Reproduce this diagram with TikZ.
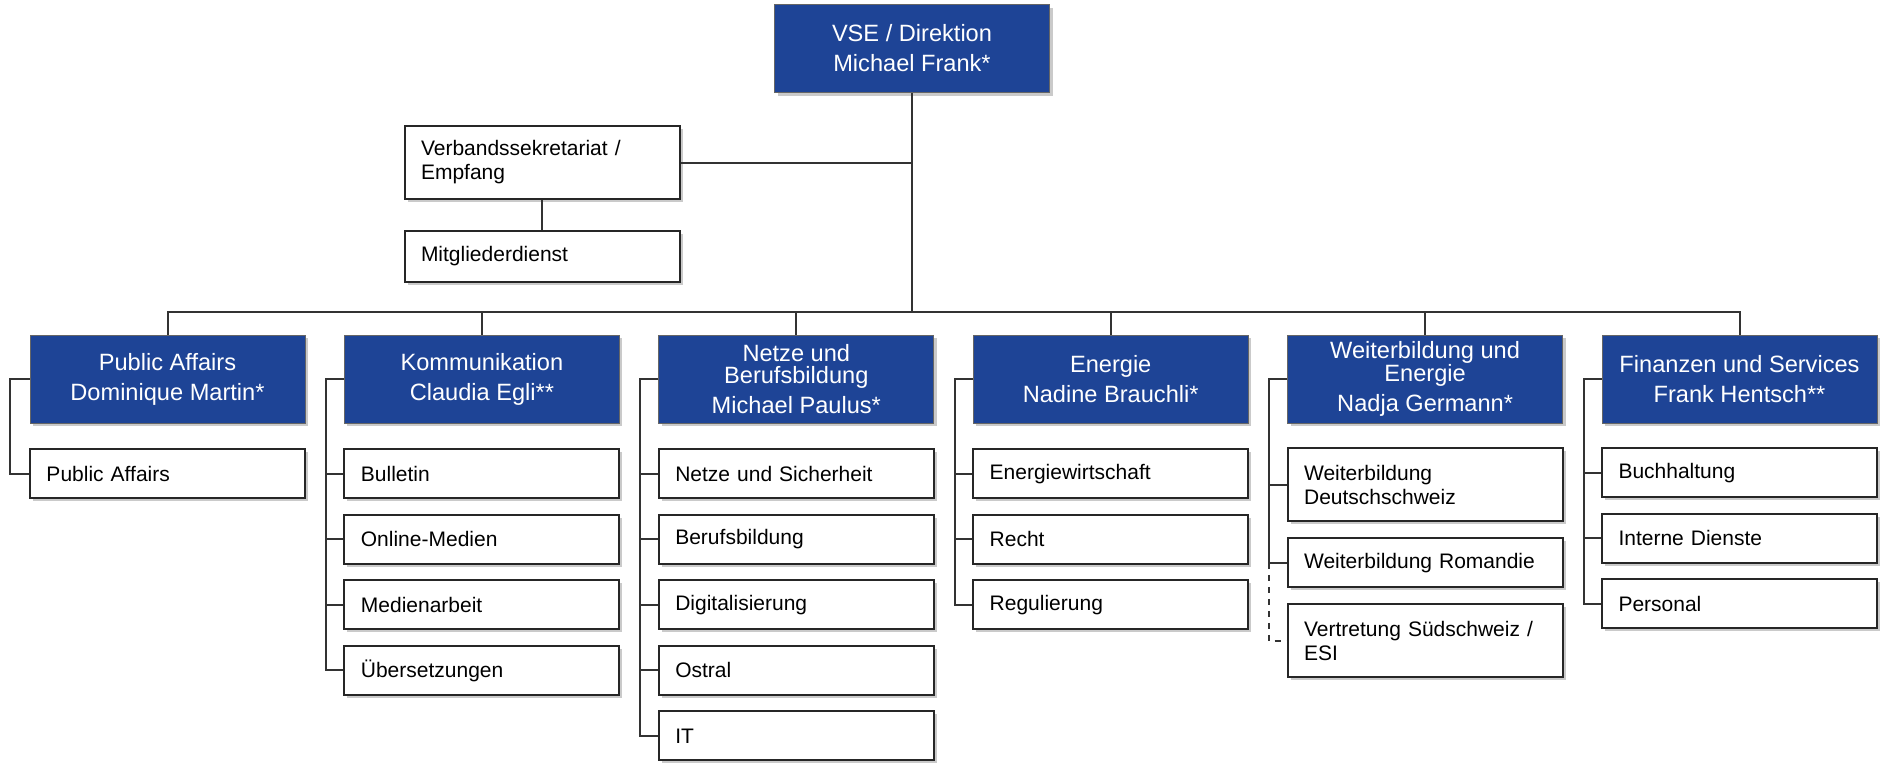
\documentclass[tikz,border=0pt]{standalone}
\usepackage{fontspec}
\setmainfont{Liberation Sans}
\usetikzlibrary{positioning,shadows}
\definecolor{vseblue}{RGB}{30,68,150}

\begin{document}
\begin{tikzpicture}[x=0.5pt, y=-0.5pt, node distance=7.25pt,
  lead/.style={rectangle, draw=black!60, fill=vseblue, text=white, minimum width=137.5pt, minimum height=44pt, inner sep=2pt, align=center, font=\fontsize{11.8}{15}\selectfont, drop shadow={shadow xshift=1.5pt, shadow yshift=-1.5pt, fill=black!35, opacity=.6}},
  unit/.style={rectangle, draw=black!85, fill=white, line width=1pt, text width=121pt, inner xsep=8.25pt, inner ysep=2pt, minimum height=24.5pt, align=left, font=\fontsize{10.5}{12}\selectfont, drop shadow={shadow xshift=1.5pt, shadow yshift=-1.5pt, fill=black!35, opacity=.6}},
  wire/.style={draw=black!80, line width=1pt}]
  \useasboundingbox (0,0) rectangle (1888,771);

  % top
  \node[lead] (dir) at (912,48.5) {VSE / Direktion\\Michael Frank*};
  \node[unit, minimum height=36.5pt] (sek) at (542,162.5) {Verbandssekretariat /\\Empfang};
  \node[unit, minimum height=25.5pt, below=15pt of sek] (mitg) {Mitgliederdienst};
  \coordinate (bus) at (912,312);

  % departments
  \node[lead] (pa) at (167.5,379) {Public Affairs\\Dominique Martin*};
  \node[lead] (komm) at (481.9,379) {Kommunikation\\Claudia Egli**};
  \node[lead] (netz) at (796.3,379) {Netze und\\[-3.7pt]Berufsbildung\\Michael Paulus*};
  \node[lead] (ener) at (1110.7,379) {Energie\\Nadine Brauchli*};
  \node[lead] (wbe) at (1425.1,379) {Weiterbildung und\\[-3.7pt]Energie\\Nadja Germann*};
  \node[lead] (fin) at (1739.5,379) {Finanzen und Services\\Frank Hentsch**};

  % sections
  \node[unit, below=12.5pt of pa] (pa1) {Public Affairs};

  \node[unit, below=12.5pt of komm] (komm1) {Bulletin};
  \node[unit, below=of komm1] (komm2) {Online-Medien};
  \node[unit, below=of komm2] (komm3) {Medienarbeit};
  \node[unit, below=of komm3] (komm4) {Übersetzungen};

  \node[unit, below=12.5pt of netz] (netz1) {Netze und Sicherheit};
  \node[unit, below=of netz1] (netz2) {Berufsbildung};
  \node[unit, below=of netz2] (netz3) {Digitalisierung};
  \node[unit, below=of netz3] (netz4) {Ostral};
  \node[unit, below=of netz4] (netz5) {IT};

  \node[unit, below=12.5pt of ener] (ener1) {Energiewirtschaft};
  \node[unit, below=of ener1] (ener2) {Recht};
  \node[unit, below=of ener2] (ener3) {Regulierung};

  \node[unit, minimum height=36.5pt, below=12pt of wbe] (wbe1) {Weiterbildung\\Deutschschweiz};
  \node[unit, below=7.5pt of wbe1] (wbe2) {Weiterbildung Romandie};
  \node[unit, minimum height=36.5pt, below=7.5pt of wbe2] (wbe3) {Vertretung Südschweiz /\\ESI};

  \node[unit, below=12pt of fin] (fin1) {Buchhaltung};
  \node[unit, below=of fin1] (fin2) {Interne Dienste};
  \node[unit, below=of fin2] (fin3) {Personal};

  % connectors
  \draw[wire] (dir.south) -- (bus);
  \draw[wire] (sek.east) -- (sek.east -| dir.south);
  \draw[wire] (sek.south) -- (mitg.north);
  \draw[wire] (pa.north) |- (bus) -| (fin.north);
  \draw[wire] (komm.north) -- (komm.north |- bus);
  \draw[wire] (netz.north) -- (netz.north |- bus);
  \draw[wire] (ener.north) -- (ener.north |- bus);
  \draw[wire] (wbe.north) -- (wbe.north |- bus);

  \draw[wire] (pa.west) -- ++(-20,0) |- (pa1.west);

  \draw[wire] (komm.west) -- ++(-18,0) |- (komm4.west);
  \draw[wire] (komm1.west) -- ++(-18,0);
  \draw[wire] (komm2.west) -- ++(-18,0);
  \draw[wire] (komm3.west) -- ++(-18,0);

  \draw[wire] (netz.west) -- ++(-18,0) |- (netz5.west);
  \draw[wire] (netz1.west) -- ++(-18,0);
  \draw[wire] (netz2.west) -- ++(-18,0);
  \draw[wire] (netz3.west) -- ++(-18,0);
  \draw[wire] (netz4.west) -- ++(-18,0);

  \draw[wire] (ener.west) -- ++(-18,0) |- (ener3.west);
  \draw[wire] (ener1.west) -- ++(-18,0);
  \draw[wire] (ener2.west) -- ++(-18,0);

  \draw[wire] (wbe.west) -- ++(-18,0) |- (wbe2.west);
  \draw[wire] (wbe1.west) -- ++(-18,0);
  \draw[wire, dashed] ([xshift=-9pt]wbe2.west) |- (wbe3.west);

  \draw[wire] (fin.west) -- ++(-18,0) |- (fin3.west);
  \draw[wire] (fin1.west) -- ++(-18,0);
  \draw[wire] (fin2.west) -- ++(-18,0);
\end{tikzpicture}
\end{document}
